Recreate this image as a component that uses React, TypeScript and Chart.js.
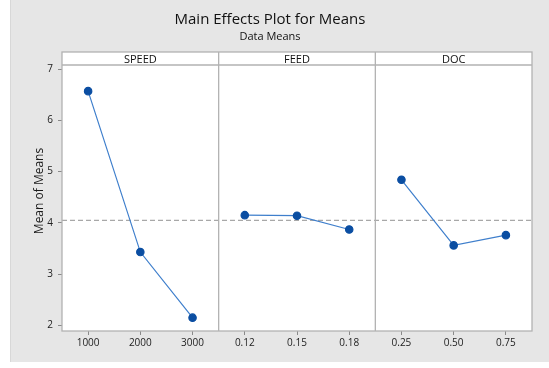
import React, { useEffect, useRef } from "react";
import { Chart, registerables } from "chart.js";
Chart.register(...registerables);

const chartTitle = "Main Effects Plot for Means";
const chartSubtitle = "Data Means";
const yAxisTitle = "Mean of Means";
const factorNames = ["SPEED", "FEED", "DOC"];
const speedLevels = ["1000", "2000", "3000"];
const feedLevels = ["0.12", "0.15", "0.18"];
const docLevels = ["0.25", "0.50", "0.75"];
const speedMeans = [6.57, 3.43, 2.15];
const feedMeans = [4.15, 4.14, 3.87];
const docMeans = [4.84, 3.56, 3.76];
const grandMean = 4.05;
const yTickValues = [2, 3, 4, 5, 6, 7];
const yMin = 1.89;
const yMax = 7.08;

const W = 549;
const H = 368;
const FONT = "'Open Sans', 'Noto Sans', sans-serif";
const FRAME = "#b2b2b2";

const levelGroups = [speedLevels, feedLevels, docLevels];
const meanGroups = [speedMeans, feedMeans, docMeans];
const labels = levelGroups.flat();

function buildData(k: number) {
  const out: (number | null)[] = [];
  levelGroups.forEach((g, gi) => {
    g.forEach((_, i) => out.push(gi === k ? meanGroups[k][i] : null));
  });
  return out;
}

const decor = {
  id: "decor",
  beforeDraw(chart: any) {
    const ctx = chart.ctx;
    const { left, right, top, bottom } = chart.chartArea;
    const stripTop = top - 13;
    ctx.save();
    ctx.fillStyle = "#ffffff";
    ctx.fillRect(0, 0, W, H);
    ctx.fillStyle = "#e6e6e6";
    ctx.fillRect(10, 0, W - 10, 362);
    ctx.fillStyle = "#d8d8d8";
    ctx.fillRect(10, 0, 1, 362);
    ctx.fillStyle = "#ffffff";
    ctx.fillRect(left, stripTop, right - left, bottom - stripTop);

    ctx.fillStyle = "#111";
    ctx.textAlign = "center";
    ctx.textBaseline = "alphabetic";
    ctx.font = `500 15px ${FONT}`;
    ctx.fillText(chartTitle, 270, 23.5);
    ctx.font = `500 11px ${FONT}`;
    ctx.fillText(chartSubtitle, 270, 39.5);

    ctx.save();
    ctx.translate(42.5, 191);
    ctx.rotate(-Math.PI / 2);
    ctx.font = `12px ${FONT}`;
    ctx.fillStyle = "#1a1a1a";
    ctx.fillText(yAxisTitle, 0, 0);
    ctx.restore();
    ctx.restore();
  },
  beforeDatasetsDraw(chart: any) {
    const ctx = chart.ctx;
    const { left, right, top, bottom } = chart.chartArea;
    const stripTop = top - 13;
    const xs = chart.scales.x;
    const ys = chart.scales.y;
    ctx.save();
    const my = ys.getPixelForValue(grandMean);
    ctx.strokeStyle = "#a8a8a8";
    ctx.lineWidth = 1.2;
    ctx.setLineDash([5, 3]);
    ctx.beginPath();
    ctx.moveTo(left, my);
    ctx.lineTo(right, my);
    ctx.stroke();
    ctx.setLineDash([]);

    ctx.strokeStyle = FRAME;
    ctx.lineWidth = 1.3;
    ctx.strokeRect(left, stripTop, right - left, bottom - stripTop);
    ctx.beginPath();
    ctx.moveTo(left, top);
    ctx.lineTo(right, top);
    ctx.stroke();

    let start = 0;
    const bounds: number[] = [left];
    levelGroups.forEach((g, gi) => {
      const end = start + g.length - 1;
      if (gi < levelGroups.length - 1) {
        const bx = (xs.getPixelForValue(end) + xs.getPixelForValue(end + 1)) / 2;
        bounds.push(bx);
        ctx.beginPath();
        ctx.moveTo(bx, stripTop);
        ctx.lineTo(bx, bottom);
        ctx.stroke();
      }
      start = end + 1;
    });
    bounds.push(right);
    ctx.fillStyle = "#111";
    ctx.font = `11px ${FONT}`;
    ctx.textAlign = "center";
    ctx.textBaseline = "alphabetic";
    factorNames.forEach((n, i) => {
      ctx.fillText(n, (bounds[i] + bounds[i + 1]) / 2, top - 2.5);
    });
    ctx.restore();
  },
};

export default function App() {
  const ref = useRef<HTMLCanvasElement | null>(null);
  useEffect(() => {
    document.body.style.margin = "0";
    if (!ref.current) return;
    const chart = new Chart(ref.current, {
      type: "line",
      data: {
        labels,
        datasets: factorNames.map((n, k) => ({
          label: n,
          data: buildData(k),
          borderColor: "#3f7fcc",
          borderWidth: 1.2,
          pointBackgroundColor: "#0b4ea2",
          pointBorderColor: "#0b4ea2",
          pointRadius: 3.7,
          spanGaps: false,
          tension: 0,
        })),
      },
      options: {
        responsive: false,
        animation: false,
        events: [],
        layout: { padding: { top: 65, right: 17, left: 11, bottom: 0 } },
        plugins: {
          legend: { display: false },
          tooltip: { enabled: false },
          title: { display: false },
        },
        scales: {
          x: {
            type: "category",
            offset: true,
            grid: {
              display: true,
              drawOnChartArea: false,
              drawTicks: true,
              tickLength: 4,
              color: "#8a8a8a",
              offset: false,
            },
            border: { display: false },
            ticks: {
              font: { family: FONT, size: 10 },
              color: "#222",
              padding: 2,
              maxRotation: 0,
              autoSkip: false,
            },
            afterFit(s: any) {
              s.height = 37;
            },
          },
          y: {
            min: yMin,
            max: yMax,
            afterBuildTicks(s: any) {
              s.ticks = yTickValues.map((v) => ({ value: v }));
            },
            grid: {
              display: true,
              drawOnChartArea: false,
              drawTicks: true,
              tickLength: 4,
              color: "#8a8a8a",
            },
            border: { display: false },
            ticks: {
              font: { family: FONT, size: 10 },
              color: "#222",
              padding: 5,
            },
            afterFit(s: any) {
              s.width = 51;
            },
          },
        },
      },
      plugins: [decor],
    });
    return () => chart.destroy();
  }, []);
  return <canvas ref={ref} width={W} height={H} style={{ display: "block" }} />;
}
